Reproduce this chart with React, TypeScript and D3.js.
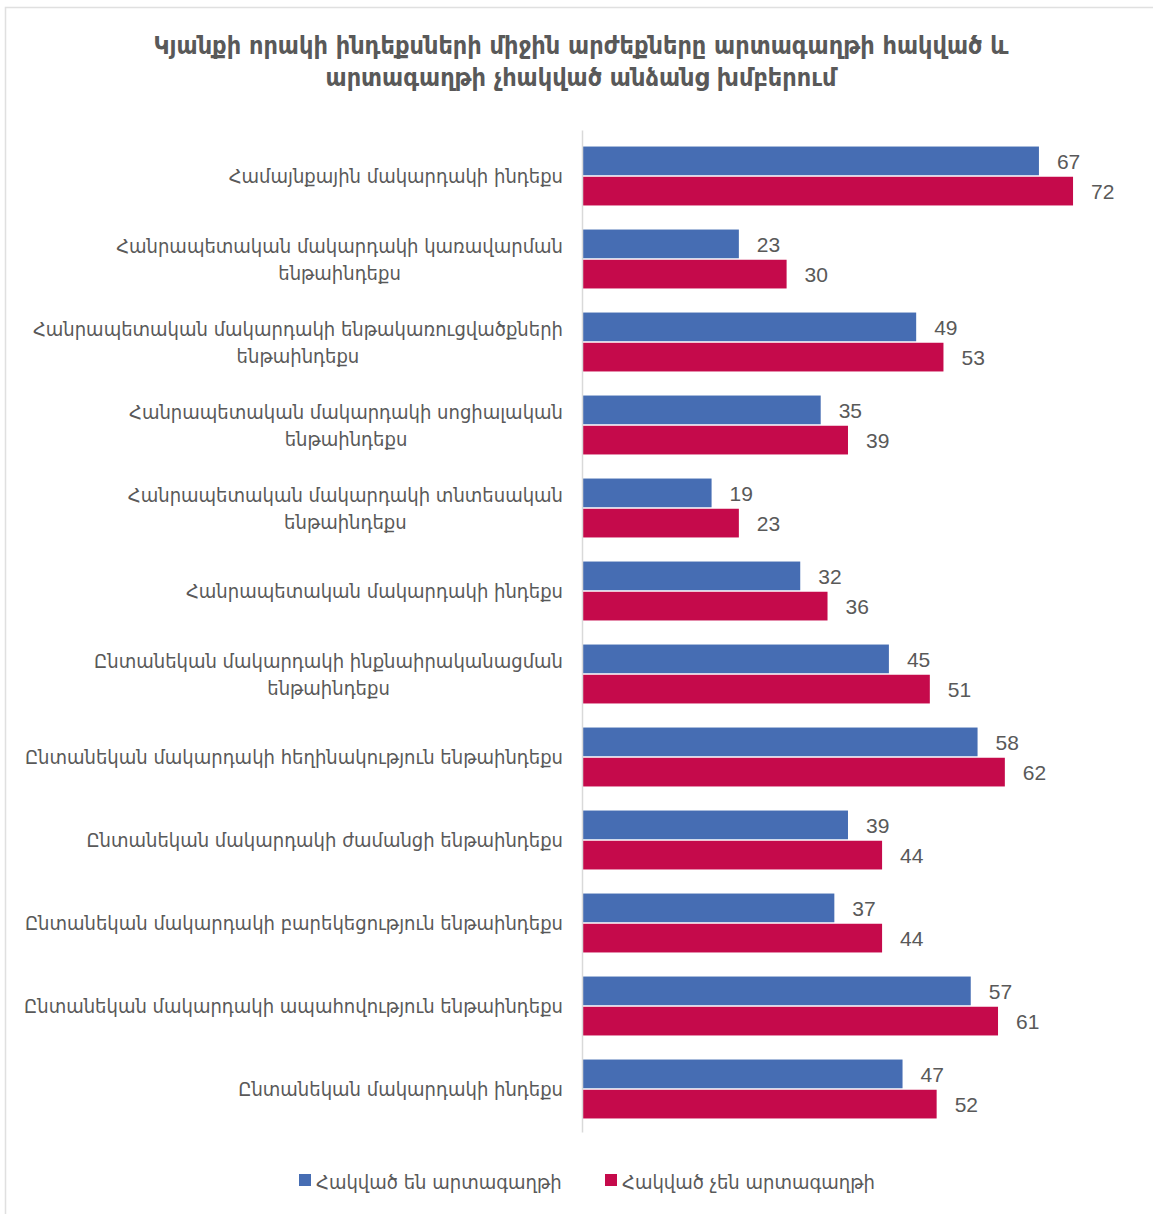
import React from "react";
import * as d3 from "d3";

const categories: string[] = [
  "Համայնքային մակարդակի ինդեքս",
  "Հանրապետական մակարդակի կառավարման\nենթաինդեքս",
  "Հանրապետական մակարդակի ենթակառուցվածքների\nենթաինդեքս",
  "Հանրապետական մակարդակի սոցիալական\nենթաինդեքս",
  "Հանրապետական մակարդակի տնտեսական\nենթաինդեքս",
  "Հանրապետական մակարդակի ինդեքս",
  "Ընտանեկան մակարդակի ինքնաիրականացման\nենթաինդեքս",
  "Ընտանեկան մակարդակի հեղինակություն ենթաինդեքս",
  "Ընտանեկան մակարդակի ժամանցի ենթաինդեքս",
  "Ընտանեկան մակարդակի բարեկեցություն ենթաինդեքս",
  "Ընտանեկան մակարդակի ապահովություն ենթաինդեքս",
  "Ընտանեկան մակարդակի ինդեքս",
];

const seriesNames: string[] = ["Հակված են արտագաղթի", "Հակված չեն արտագաղթի"];
const inclined: number[] = [67, 23, 49, 35, 19, 32, 45, 58, 39, 37, 57, 47];
const notInclined: number[] = [72, 30, 53, 39, 23, 36, 51, 62, 44, 44, 61, 52];
const seriesColors: string[] = ["#466db3", "#c50a4b"];

const titleLines: string[] = [
  "Կյանքի որակի ինդեքսների միջին արժեքները արտագաղթի հակված և",
  "արտագաղթի չհակված անձանց խմբերում",
];

const W = 1153;
const H = 1214;
const FONT = "'DejaVu Sans Condensed', 'DejaVu Sans', sans-serif";
const NUMFONT = "'Liberation Sans', 'DejaVu Sans', sans-serif";
const TEXT = "#595959";

export default function App() {
  const x = d3.scaleLinear().domain([0, 100]).range([582, 582 + 682]);
  const y = d3
    .scaleBand<number>()
    .domain(d3.range(categories.length))
    .range([134.5, 1130.5])
    .paddingInner(0.29)
    .paddingOuter(0.145);
  const inner = d3
    .scaleBand<number>()
    .domain([0, 1])
    .range([0, y.bandwidth()])
    .paddingInner(0.05);
  const series = [inclined, notInclined];

  return (
    <svg
      width={W}
      height={H}
      style={{ position: "absolute", left: 0, top: 0, background: "#fff" }}
    >
      <rect x={5.5} y={7.5} width={W + 10} height={H + 10} fill="#fff" stroke="#e0e0e0" strokeWidth={1.5} />
      <g fontFamily={FONT} fill={TEXT} fontWeight="bold" fontSize={25} textAnchor="middle">
        {titleLines.map((t, i) => (
          <text key={i} x={581} y={54 + i * 32}>
            {t}
          </text>
        ))}
      </g>
      {categories.map((c, i) => {
        const y0 = y(i)!;
        const cy = y0 + y.bandwidth() / 2;
        const lines = c.split("\n");
        const lh = 27;
        return (
          <g key={i}>
            {series.map((s, k) => (
              <g key={k}>
                <rect
                  x={x(0)}
                  y={y0 + inner(k)!}
                  width={x(s[i]) - x(0)}
                  height={inner.bandwidth()}
                  fill={seriesColors[k]}
                />
                <text
                  x={x(s[i]) + 18}
                  y={y0 + inner(k)! + inner.bandwidth() / 2 + 8}
                  fontFamily={NUMFONT}
                  fontSize={21}
                  fill={TEXT}
                >
                  {s[i]}
                </text>
              </g>
            ))}
            {lines.length === 1 ? (
              <text x={563} y={cy + 7} textAnchor="end" fontFamily={FONT} fontSize={20} fill={TEXT}>
                {lines[0]}
              </text>
            ) : (
              <LabelBlock lines={lines} right={563} cy={cy} lh={lh} />
            )}
          </g>
        );
      })}
      <line x1={582.5} x2={582.5} y1={y.range()[0] - 4} y2={y.range()[1] + 2} stroke="#d9d9d9" strokeWidth={1.5} />
      <g fontFamily={FONT} fontSize={20} fill={TEXT}>
        {seriesNames.map((n, k) => {
          const lx = [299, 605][k];
          return (
            <g key={k}>
              <rect x={lx} y={1174} width={12} height={12} fill={seriesColors[k]} />
              <text x={lx + 17} y={1189}>
                {n}
              </text>
            </g>
          );
        })}
      </g>
    </svg>
  );
}

function LabelBlock({ lines, right, cy, lh }: { lines: string[]; right: number; cy: number; lh: number }) {
  const ref = React.useRef<SVGGElement>(null);
  const [w, setW] = React.useState(0);
  React.useLayoutEffect(() => {
    if (ref.current) {
      const texts = ref.current.querySelectorAll("text");
      let m = 0;
      texts.forEach((t) => {
        m = Math.max(m, (t as SVGTextElement).getComputedTextLength());
      });
      setW(m);
    }
  }, []);
  const center = right - w / 2;
  const top = cy - ((lines.length - 1) * lh) / 2;
  return (
    <g ref={ref}>
      {lines.map((l, j) => (
        <text
          key={j}
          x={center}
          y={top + j * lh + 7}
          textAnchor="middle"
          fontFamily={FONT}
          fontSize={20}
          fill={TEXT}
        >
          {l}
        </text>
      ))}
    </g>
  );
}
